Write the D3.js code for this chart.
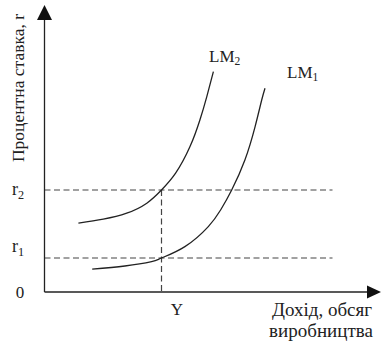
<!DOCTYPE html>
<html>
<head>
<meta charset="utf-8">
<script src="https://cdn.jsdelivr.net/npm/d3@7"></script>
<style>
  html, body { margin: 0; padding: 0; background: #fff; }
  svg { display: block; }
  text { font-family: "Liberation Serif", "Times New Roman", serif; fill: #222; }
</style>
</head>
<body>
<svg id="chart" width="381" height="342"></svg>
<script>
// LM curves: output (income) vs interest rate, in abstract units
const lm2X = [11.3, 19.6, 27.4, 34.1, 39, 43.7, 48.5, 51.8, 54.1, 56.3];
const lm2R = [34.4, 36.4, 39.4, 44.4, 51, 59.4, 72.7, 86, 97.7, 110.2];
const lm1X = [15.9, 26.8, 35.7, 39, 46.8, 54.6, 58.7, 62.4, 66.8, 70.2, 72.4, 73.5];
const lm1R = [11.4, 13, 15.2, 17, 22.7, 32.7, 41, 51, 66, 82.7, 96, 101.9];

// reference levels on the axes
const rateNames = ["r", "r"];
const rateSubs = ["1", "2"];
const rateValues = [17, 51];
const incomeLevel = 39;
const incomeLabel = "Y";
const curveNames = ["LM", "LM"];
const curveSubs = ["2", "1"];

const svg = d3.select("#chart");
const x = d3.scaleLinear().domain([0, 100]).range([44.5, 344.5]);
const y = d3.scaleLinear().domain([0, 100]).range([292, 92]);

const ink = "#222";
const dashInk = "#444";

// dashed guide lines for r1, r2 and Y
rateValues.forEach(v => {
  svg.append("line")
    .attr("x1", x(0)).attr("x2", x(96))
    .attr("y1", y(v)).attr("y2", y(v))
    .attr("stroke", dashInk).attr("stroke-width", 1.2)
    .attr("stroke-dasharray", "6,3.5");
});
svg.append("line")
  .attr("x1", x(incomeLevel)).attr("x2", x(incomeLevel))
  .attr("y1", y(rateValues[1])).attr("y2", y(0))
  .attr("stroke", dashInk).attr("stroke-width", 1.2)
  .attr("stroke-dasharray", "6,3.5");

// axes with arrowheads
const axisTopY = 20, axisRightX = 367;
svg.append("line").attr("x1", x(0)).attr("x2", x(0))
  .attr("y1", y(0)).attr("y2", axisTopY)
  .attr("stroke", ink).attr("stroke-width", 1.3);
svg.append("line").attr("x1", x(0)).attr("x2", axisRightX)
  .attr("y1", y(0)).attr("y2", y(0))
  .attr("stroke", ink).attr("stroke-width", 1.3);
svg.append("path")
  .attr("d", `M${x(0)},5 L${x(0) - 7.5},${axisTopY} L${x(0) + 7.5},${axisTopY} Z`)
  .attr("fill", "#111");
svg.append("path")
  .attr("d", `M381,${y(0)} L${axisRightX},${y(0) - 6.5} L${axisRightX},${y(0) + 6.5} Z`)
  .attr("fill", "#111");

// LM curves
const line = d3.line()
  .x(d => x(d[0])).y(d => y(d[1]))
  .curve(d3.curveNatural);
[[lm2X, lm2R], [lm1X, lm1R]].forEach(([xs, rs]) => {
  svg.append("path")
    .datum(xs.map((v, i) => [v, rs[i]]))
    .attr("d", line)
    .attr("fill", "none")
    .attr("stroke", ink).attr("stroke-width", 1.3);
});

// label with a subscript
function subLabel(px, py, main, sub, size) {
  const t = svg.append("text").attr("x", px).attr("y", py)
    .attr("font-size", size);
  t.append("tspan").text(main);
  t.append("tspan").attr("font-size", size * 0.68).attr("dy", size * 0.2).text(sub);
  return t;
}
subLabel(209, 62, curveNames[0], curveSubs[0], 17);
subLabel(287, 78, curveNames[1], curveSubs[1], 17);

// rate labels on the vertical axis
subLabel(12, 252, rateNames[0], rateSubs[0], 18);
subLabel(12, 195, rateNames[1], rateSubs[1], 18);
svg.append("text").attr("x", 20).attr("y", 298)
  .attr("text-anchor", "middle").attr("font-size", 17).text("0");

// income label
svg.append("text").attr("x", 177).attr("y", 315)
  .attr("text-anchor", "middle").attr("font-size", 17).text(incomeLabel);

// axis titles
svg.append("text").attr("x", 322).attr("y", 316)
  .attr("text-anchor", "middle").attr("font-size", 19).text("Дохід, обсяг");
svg.append("text").attr("x", 321).attr("y", 337)
  .attr("text-anchor", "middle").attr("font-size", 19).text("виробництва");
svg.append("text")
  .attr("transform", "translate(24,88) rotate(-90)")
  .attr("text-anchor", "middle").attr("font-size", 17.5)
  .text("Процентна ставка, r");
</script>
</body>
</html>
